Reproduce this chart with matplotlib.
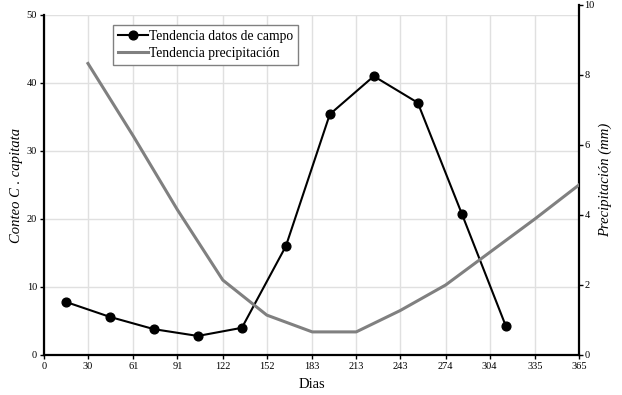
import matplotlib
matplotlib.use("Agg")
import matplotlib.pyplot as plt

plt.rcParams['font.family'] = ['Liberation Serif', 'DejaVu Serif']

dias_campo = [15, 45, 75, 105, 135, 165, 195, 225, 255, 285, 315]
conteo = [7.8, 5.6, 3.8, 2.8, 4.0, 16.0, 35.4, 41.0, 37.1, 20.8, 4.3]

dias_prec = [30, 61, 91, 122, 152, 183, 213, 243, 274, 304, 335, 365]
precip = [8.33, 6.25, 4.15, 2.14, 1.14, 0.66, 0.66, 1.27, 2.0, 2.93, 3.89, 4.86]

xticks = [0, 30, 61, 91, 122, 152, 183, 213, 243, 274, 304, 335, 365]
yticks_l = [0, 10, 20, 30, 40, 50]
yticks_r = [0, 2, 4, 6, 8, 10]

W, H = 622, 395
fig = plt.figure(figsize=(W/100, H/100), dpi=100)
left, right_px, bottom_px = 44, 579, 355
ax = fig.add_axes([left/W, (H-bottom_px)/H, (right_px-left)/W, 340/H])
ax2 = fig.add_axes([left/W, (H-bottom_px)/H, (right_px-left)/W, 350/H])
ax2.patch.set_visible(False)

ax.set_xlim(0, 365)
ax.set_ylim(0, 50)
ax.set_xticks(xticks)
ax.set_yticks(yticks_l)
ax.grid(True, color='#e0e0e0', linewidth=1)
ax.set_axisbelow(True)
for s in ['top', 'right']:
    ax.spines[s].set_visible(False)
for s in ['left', 'bottom']:
    ax.spines[s].set_linewidth(1.6)
ax.tick_params(labelsize=7.5, length=3, width=1, pad=2)

ax2.set_xlim(0, 365)
ax2.set_ylim(0, 10)
ax2.set_yticks(yticks_r)
ax2.set_xticks([])
for s in ['top', 'left', 'bottom']:
    ax2.spines[s].set_visible(False)
ax2.spines['right'].set_linewidth(1.6)
ax2.yaxis.tick_right()
ax2.yaxis.set_label_position('right')
ax2.tick_params(labelsize=7.5, length=3, width=1, pad=1)

l1, = ax.plot(dias_campo, conteo, color='black', linewidth=1.5, marker='o',
              markersize=6.3, label='Tendencia datos de campo', zorder=4)
l2, = ax2.plot(dias_prec, precip, color='#808080', linewidth=2.2,
               label='Tendencia precipitación', zorder=3)

ax.set_ylabel('Conteo C . capitata', fontsize=10.5, style='italic')
ax.yaxis.set_label_coords((23 - left) / (right_px - left), 0.5)
ax2.set_ylabel('Precipitación (mm)', fontsize=10.5, style='italic')
ax2.yaxis.set_label_coords((599 - left) / (right_px - left), 0.5)
ax.set_xlabel('Dias', fontsize=10.5, labelpad=5)

leg = ax2.legend(handles=[l1, l2], loc='upper left',
                 bbox_to_anchor=((113-left)/(right_px-left), 1 - (25-5)/350),
                 fontsize=9.8, frameon=True, fancybox=False, edgecolor='#808080',
                 framealpha=1, borderpad=0.35, handlelength=2.2, handletextpad=0.1,
                 labelspacing=0.3, borderaxespad=0)
leg.get_frame().set_linewidth(1)

fig.savefig('out.png', dpi=100)
